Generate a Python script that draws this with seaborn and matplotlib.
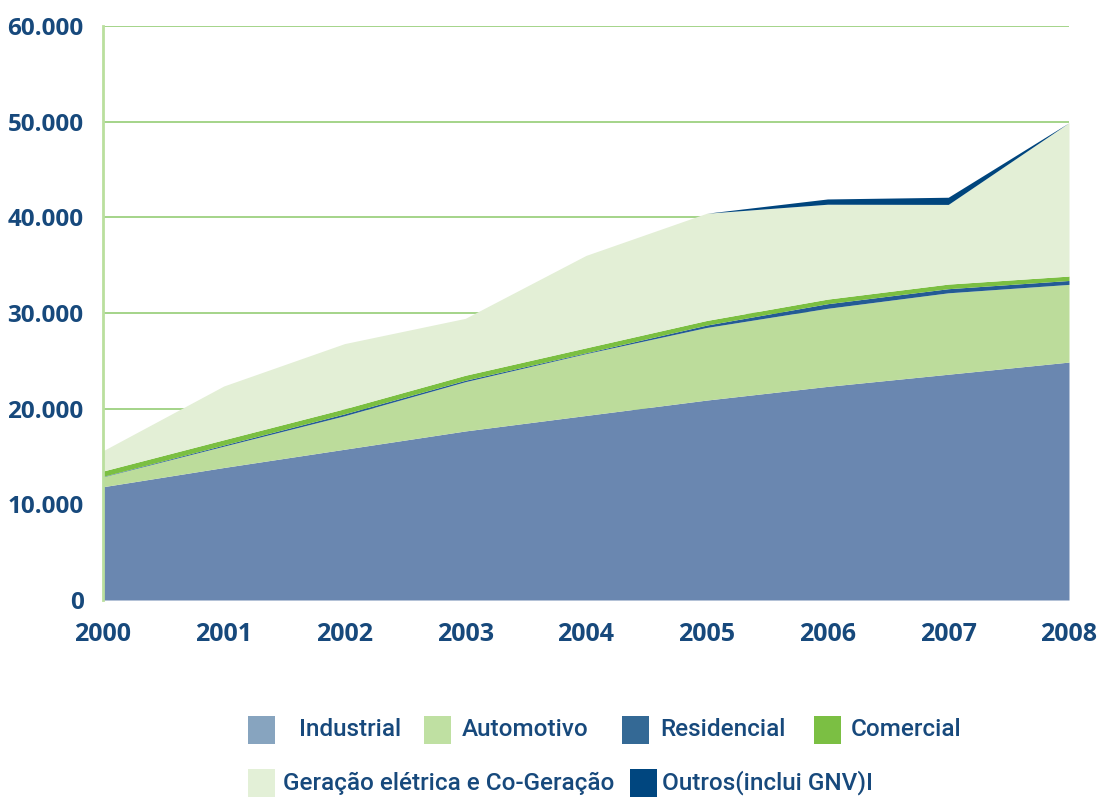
import matplotlib
matplotlib.use("Agg")
import matplotlib.pyplot as plt
from matplotlib.patches import Rectangle
from matplotlib.ticker import FuncFormatter
import seaborn as sns

# Consumo de gás natural por segmento (mil m³/dia), 2000-2008
anos = [2000, 2001, 2002, 2003, 2004, 2005, 2006, 2007, 2008]
industrial = [11840, 13850, 15760, 17670, 19290, 20900, 22330, 23600, 24870]
automotivo = [1040, 2230, 3500, 5150, 6470, 7590, 8160, 8510, 8120]
residencial = [40, 120, 200, 150, 80, 250, 480, 430, 410]
comercial = [560, 550, 530, 520, 520, 480, 480, 480, 460]
geracao = [2120, 5620, 6810, 5950, 9660, 11210, 9920, 8330, 16040]
outros = [0, 0, 0, 0, 0, 0, 550, 750, 0]

segmentos = ["Industrial", "Automotivo", "Residencial", "Comercial",
             "Geração elétrica e Co-Geração", "Outros(inclui GNV)I"]

cores_area = ["#6A87B0", "#BCDC9B", "#245B95", "#7BBF42", "#E3EFD6", "#00457D"]
cores_legenda = ["#87A4BF", "#BFE0A2", "#346995", "#7BBF43", "#E3F0D7", "#00467F"]
azul_texto = "#17497C"

sns.set_theme(style="white")
plt.rcParams["font.family"] = ["Open Sans", "DejaVu Sans"]

fig, ax = plt.subplots(figsize=(10.99, 7.99), dpi=100)
fig.subplots_adjust(left=103 / 1099, right=1069 / 1099,
                    top=1 - 26 / 799, bottom=1 - 600 / 799)

ax.stackplot(anos, industrial, automotivo, residencial, comercial, geracao, outros,
             colors=cores_area, linewidth=0, zorder=2)

ax.set_xlim(2000, 2008)
ax.set_ylim(0, 60000)
ax.set_xticks(anos)
ax.set_yticks(range(0, 60001, 10000))
ax.yaxis.set_major_formatter(FuncFormatter(lambda v, p: f"{int(v):,}".replace(",", ".")))

ax.yaxis.grid(True, color="#8CC96A", linewidth=1.1)
ax.xaxis.grid(False)
ax.set_axisbelow(True)

for lado in ["top", "right", "bottom"]:
    ax.spines[lado].set_visible(False)
ax.spines["left"].set_color("#BADF9E")
ax.spines["left"].set_linewidth(2)

ax.tick_params(axis="both", length=0, labelcolor=azul_texto)
ax.tick_params(axis="x", pad=16, labelsize=18)
ax.tick_params(axis="y", pad=14, labelsize=17.5)
for rot in ax.get_xticklabels() + ax.get_yticklabels():
    rot.set_fontweight("bold")

# Legenda em duas linhas, abaixo do gráfico
W, H = 1099, 799
itens = [
    (0, 248, 299, 730),
    (1, 424, 462, 730),
    (2, 622, 660, 730),
    (3, 814, 851, 730),
    (4, 248, 283, 783),
    (5, 630, 662, 783),
]
for i, xq, xt, yc in itens:
    fig.patches.append(Rectangle((xq / W, 1 - (yc + 14) / H), 27 / W, 28 / H,
                                 transform=fig.transFigure, facecolor=cores_legenda[i],
                                 edgecolor="none"))
    fig.text(xt / W, 1 - yc / H, segmentos[i], ha="left", va="center",
             fontsize=17.5, fontweight="medium", color=azul_texto,
             family=["Roboto", "DejaVu Sans"])

fig.savefig("out.png", dpi=100)
